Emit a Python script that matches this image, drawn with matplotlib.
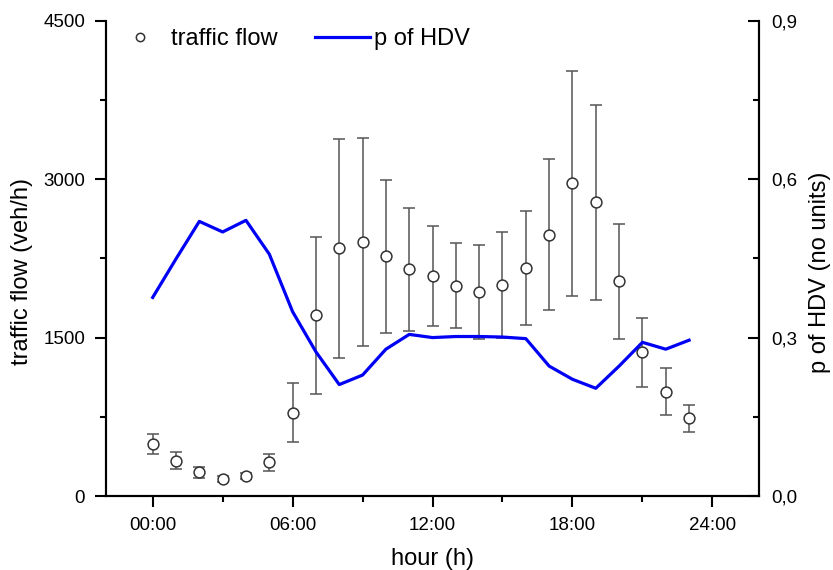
#!/usr/bin/env python3
"""
Hourly traffic flow (mean ± sd) together with the share of heavy-duty
vehicles (p of HDV) on a secondary axis.
"""

import matplotlib
matplotlib.use("Agg")
import matplotlib.pyplot as plt
import matplotlib.ticker as mticker
from matplotlib.lines import Line2D

# ── Data ──────────────────────────────────────────────────────────────────────
HOURS = list(range(24))

FLOW_MEAN = [490, 334, 224, 161, 189, 319, 789, 1711, 2345, 2408, 2269, 2146,
             2083, 1991, 1928, 1998, 2156, 2474, 2963, 2781, 2033, 1360, 988, 735]
FLOW_SD = [95, 80, 55, 25, 30, 78, 280, 745, 1035, 985, 725, 583,
           470, 403, 445, 500, 540, 715, 1065, 923, 545, 330, 224, 128]

P_HDV = [0.376, 0.449, 0.520, 0.500, 0.522, 0.458, 0.349, 0.273, 0.211, 0.229,
         0.278, 0.306, 0.300, 0.302, 0.302, 0.301, 0.298, 0.246, 0.221, 0.204,
         0.246, 0.291, 0.278, 0.295]

X_TICKS = [0, 6, 12, 18, 24]
X_TICK_LABELS = ["00:00", "06:00", "12:00", "18:00", "24:00"]
FLOW_TICKS = [0, 1500, 3000, 4500]
P_TICKS = [0.0, 0.3, 0.6, 0.9]
P_TICK_LABELS = ["0,0", "0,3", "0,6", "0,9"]

# ── Aesthetics ────────────────────────────────────────────────────────────────
LINE_BLUE = "#0000F5"
ERR_GREY = "#555555"

plt.rcParams.update({
    "font.family": ["Liberation Sans", "DejaVu Sans"],
    "axes.linewidth": 1.5,
    "xtick.labelsize": 13.5,
    "ytick.labelsize": 13.5,
    "axes.labelsize": 17,
})

fig = plt.figure(figsize=(8.33, 5.70), dpi=100)
ax = fig.add_axes([0.1273, 0.1298, 0.7839, 0.8339])
ax2 = ax.twinx()

# traffic flow with error bars
ax.errorbar(HOURS, FLOW_MEAN, yerr=FLOW_SD, fmt="o",
            color=ERR_GREY, ecolor=ERR_GREY, elinewidth=1.1, capsize=4,
            capthick=1.1, markersize=7.8, markerfacecolor="white",
            markeredgecolor="#333333", markeredgewidth=1.1, zorder=3)

# p of HDV
ax2.plot(HOURS, P_HDV, color=LINE_BLUE, linewidth=2.3, zorder=2)

# ── Axes ──────────────────────────────────────────────────────────────────────
ax.set_xlim(-2, 26)
ax.set_ylim(0, 4500)
ax2.set_ylim(0, 0.9)

ax.set_xticks(X_TICKS)
ax.set_xticklabels(X_TICK_LABELS)
ax.xaxis.set_minor_locator(mticker.MultipleLocator(3))
ax.set_yticks(FLOW_TICKS)
ax.yaxis.set_minor_locator(mticker.MultipleLocator(750))
ax2.set_yticks(P_TICKS)
ax2.set_yticklabels(P_TICK_LABELS)
ax2.yaxis.set_minor_locator(mticker.MultipleLocator(0.15))

for a in (ax, ax2):
    a.spines["top"].set_visible(False)

ax.tick_params(axis="both", which="major", direction="out", length=8,
               width=1.5, pad=7)
ax.tick_params(axis="both", which="minor", direction="out", length=4.5,
               width=1.5)
ax.tick_params(axis="y", right=False)
ax2.tick_params(axis="y", which="major", direction="in", length=8,
                width=1.5, pad=9)
ax2.tick_params(axis="y", which="minor", direction="in", length=4.5,
                width=1.5)

ax.set_xlabel("hour (h)", labelpad=10)
ax.set_ylabel("traffic flow (veh/h)")
ax2.set_ylabel("p of HDV (no units)")
ax.yaxis.set_label_coords(-0.112, 0.473)
ax2.yaxis.set_label_coords(1.077, 0.471)

# ── Legend ────────────────────────────────────────────────────────────────────
handles = [
    Line2D([], [], linestyle="none", marker="o", markersize=6,
           markerfacecolor="white", markeredgecolor="#333333",
           markeredgewidth=1.1),
    Line2D([], [], color=LINE_BLUE, linewidth=2.3),
]
ax.legend(handles, ["traffic flow", "p of HDV"], loc="upper left",
          bbox_to_anchor=(0.0095, 0.985), ncol=2, frameon=False, fontsize=17,
          handlelength=2.33, handletextpad=0.15, columnspacing=1.6,
          borderaxespad=0, borderpad=0)

fig.savefig("out.png", dpi=100)
